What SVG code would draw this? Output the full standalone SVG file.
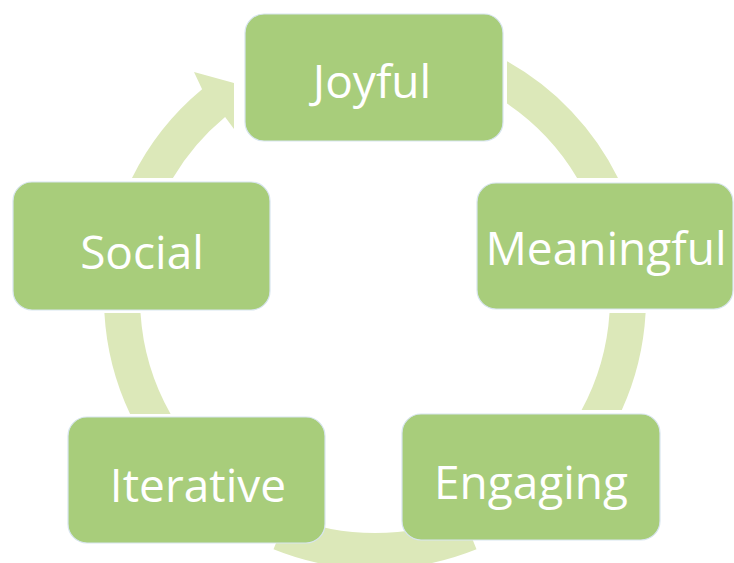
<svg xmlns="http://www.w3.org/2000/svg" width="734" height="563" viewBox="0 0 734 563">
  <style>
    .box { fill: #a8cd7b; stroke: #d8e5ef; stroke-width: 1.2; }
    .lbl { fill: #ffffff; font-family: "Open Sans", "Noto Sans", "Liberation Sans", sans-serif; font-size: 46px; text-anchor: middle; }
    .arc { fill: #dce8b9; }
  </style>
  <rect width="734" height="563" fill="#ffffff"/>

  <!-- ring segments around centre (375,298), inner r 235, outer r 271 -->
  <g id="connectors">
    <path class="arc" d="M 132,178 A 271 271 0 0 1 202.1,89.3 L 194,72 L 234,83 L 234,129 L 225.1,117 A 235 235 0 0 0 172.9,178 Z"/>
    <path class="arc" d="M 507,61.3 A 271 271 0 0 1 618,178 L 577.1,178 A 235 235 0 0 0 507,103.6 Z"/>
    <path class="arc" d="M 645.6,313 A 271 271 0 0 1 621.8,410 L 581.6,410 A 235 235 0 0 0 609.5,313 Z"/>
    <path class="arc" d="M 476.5,549.3 A 271 271 0 0 1 273.5,549.3 L 287,515.9 A 235 235 0 0 0 463,515.9 Z"/>
    <path class="arc" d="M 130.1,414 A 271 271 0 0 1 104.4,313 L 140.5,313 A 235 235 0 0 0 170.6,414 Z"/>
  </g>

  <g id="joyful">
    <rect class="box" x="245" y="14" width="258" height="127" rx="19"/>
    <text class="lbl" x="372" y="98">Joyful</text>
  </g>
  <g id="meaningful">
    <rect class="box" x="477" y="183" width="256" height="126" rx="19"/>
    <text class="lbl" x="606" y="265">Meaningful</text>
  </g>
  <g id="engaging">
    <rect class="box" x="402" y="414" width="258" height="126" rx="19"/>
    <text class="lbl" x="531" y="499">Engaging</text>
  </g>
  <g id="iterative">
    <rect class="box" x="68" y="417" width="257" height="126" rx="19"/>
    <text class="lbl" x="198" y="502">Iterative</text>
  </g>
  <g id="social">
    <rect class="box" x="13" y="182" width="257" height="128" rx="19"/>
    <text class="lbl" x="142" y="269">Social</text>
  </g>
</svg>
